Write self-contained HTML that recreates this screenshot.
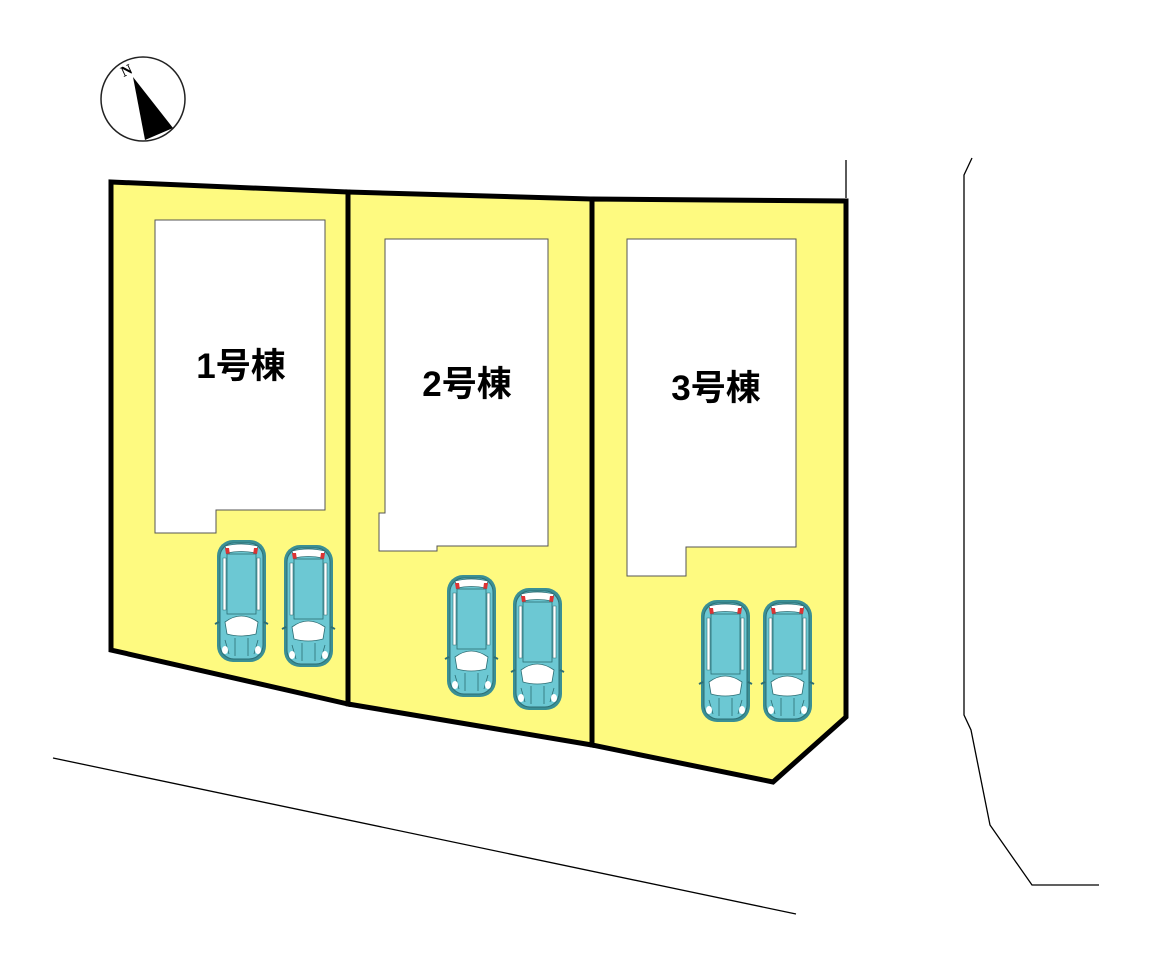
<!DOCTYPE html>
<html><head><meta charset="utf-8"><style>body{margin:0;background:#fff}svg{display:block}</style></head><body>
<svg width="1151" height="960" viewBox="0 0 1151 960" xmlns="http://www.w3.org/2000/svg">
<defs>
<g id="car">
<rect x="0" y="0" width="49" height="122" rx="16" fill="#3a8f95"/>
<rect x="3" y="3" width="43" height="116" rx="14" fill="#6cc8d3" stroke="#2d6e74" stroke-width="1"/>
<path d="M8 6 Q24 2 41 6 L39 13 Q24 10 10 13Z" fill="#fff" stroke="#2d6e74" stroke-width="0.8"/>
<path d="M8 8 L12 8 L13 15 L9 14Z" fill="#d33"/>
<path d="M41 8 L37 8 L36 15 L40 14Z" fill="#d33"/>
<rect x="10" y="14" width="29" height="60" fill="#6cc8d3" stroke="#2d6e74" stroke-width="0.8"/>
<path d="M6 18 L9 18 L9 70 L6 70Z M43 18 L40 18 L40 70 L43 70Z" fill="#fff" stroke="#2d6e74" stroke-width="0.6"/>
<path d="M8 82 Q24 70 41 82 L39 94 Q24 98 10 94Z" fill="#fff" stroke="#2d6e74" stroke-width="0.8"/>
<path d="M2 82 L-2 84 M47 82 L51 84" stroke="#2d6e74" stroke-width="2"/>
<path d="M8 100 L12 114 M41 100 L37 114 M18 98 L18 116 M31 98 L31 116" stroke="#2d6e74" stroke-width="0.8" fill="none"/>
<ellipse cx="8" cy="110" rx="3" ry="4" fill="#fff"/><ellipse cx="41" cy="110" rx="3" ry="4" fill="#fff"/>
</g>
</defs>
<circle cx="143" cy="99" r="42" fill="#fff" stroke="#222" stroke-width="1.5"/>
<polygon points="133,77 145,140 173,128" fill="#000"/>
<text x="121" y="75" font-family="Liberation Serif, serif" font-weight="bold" font-size="15" transform="rotate(-25 127 70)">N</text>
<line x1="53" y1="758" x2="796" y2="914" stroke="#000" stroke-width="1.3"/>
<line x1="846" y1="160" x2="846" y2="198" stroke="#000" stroke-width="1.3"/>
<polyline points="972,158 964,175 964,715 971,730 990,825 1032,885 1099,885" fill="none" stroke="#000" stroke-width="1.3"/>
<g fill="#fefa80" stroke="#000" stroke-width="5" stroke-linejoin="miter">
<polygon points="111,182 348,192 348,704 111,650"/>
<polygon points="348,192 592,199 592,745 348,704"/>
<polygon points="592,199 846,201 846,717 773,782 592,745"/>
</g>
<g fill="#fff" stroke="#555" stroke-width="1">
<polygon points="155,220 325,220 325,510 216,510 216,533 155,533"/>
<polygon points="385,239 548,239 548,546 437,546 437,551 379,551 379,513 385,513"/>
<polygon points="627,239 796,239 796,547 686,547 686,576 627,576"/>
</g>
<g font-family="Liberation Sans, 'Noto Sans CJK JP', sans-serif" font-size="35" font-weight="bold" text-anchor="middle" fill="#000">
<text x="241" y="378">1号棟</text>
<text x="467" y="396">2号棟</text>
<text x="716" y="400">3号棟</text>
</g>
<use href="#car" x="217" y="540"/>
<use href="#car" x="284" y="545"/>
<use href="#car" x="447" y="575"/>
<use href="#car" x="513" y="588"/>
<use href="#car" x="701" y="600"/>
<use href="#car" x="763" y="600"/>
</svg>
</body></html>
